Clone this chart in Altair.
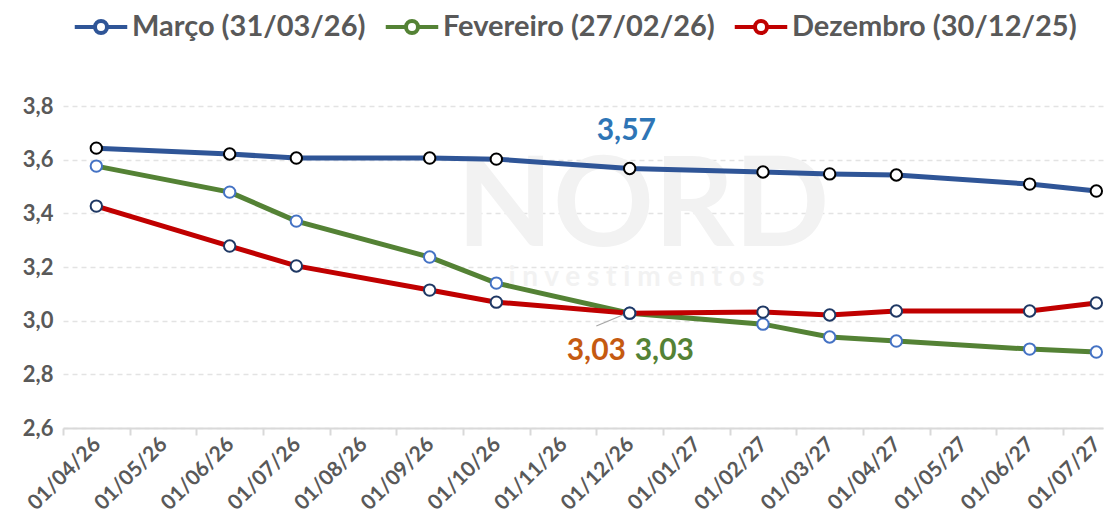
import altair as alt
import pandas as pd

month_labels = ["01/04/26", "01/05/26", "01/06/26", "01/07/26", "01/08/26", "01/09/26",
                "01/10/26", "01/11/26", "01/12/26", "01/01/27", "01/02/27", "01/03/27",
                "01/04/27", "01/05/27", "01/06/27", "01/07/27"]
point_month_idx = [0, 2, 3, 5, 6, 8, 10, 11, 12, 14, 15]

marco = [3.643, 3.621, 3.606, 3.606, 3.602, 3.567, 3.554, 3.547, 3.543, 3.509, 3.483]
fevereiro = [3.576, 3.479, 3.371, 3.237, 3.140, 3.028, 2.987, 2.939, 2.924, 2.894, 2.883]
dezembro = [3.427, 3.278, 3.204, 3.114, 3.069, 3.028, 3.032, 3.021, 3.036, 3.036, 3.066]

series_names = ["Março (31/03/26)", "Fevereiro (27/02/26)", "Dezembro (30/12/25)"]
series_values = [marco, fevereiro, dezembro]
line_colors = ["#2F5597", "#548235", "#C00000"]
marker_strokes = ["#000000", "#4472C4", "#1F3864"]

rows = []
for name, vals, mstroke in zip(series_names, series_values, marker_strokes):
    for i, v in zip(point_month_idx, vals):
        rows.append({"serie": name, "idx": i, "valor": v, "mstroke": mstroke})
df = pd.DataFrame(rows)

ann_text = ["3,57", "3,03", "3,03"]
ann_x = [7.95, 7.5, 8.52]
ann_y = [3.707, 2.887, 2.887]
ann_color = ["#2E75B6", "#C55A11", "#548235"]
ann_df = pd.DataFrame({"t": ann_text, "x": ann_x, "y": ann_y, "c": ann_color})

leader_df = pd.DataFrame({"x": [7.5], "y": [2.98], "x2": [7.94], "y2": [3.026]})

wm_df = pd.DataFrame({"t": ["NORD", "i n v e s t i m e n t o s"],
                      "x": [8.2, 8.1], "y": [3.42, 3.16], "s": [125, 28]})

FONT = "Lato"
GREY = "#595959"

x_dom = [-0.5, 15.1]
tick_vals = [i - 0.5 for i in range(16)]
label_expr = "[" + ",".join("'" + l + "'" for l in month_labels) + "][round(datum.value + 0.5)]"

xscale = alt.Scale(domain=x_dom, nice=False, zero=False)
yscale = alt.Scale(domain=[2.6, 3.8], nice=False, zero=False)

x_enc = alt.X("idx:Q", scale=xscale,
              axis=alt.Axis(values=tick_vals, labelExpr=label_expr, labelOffset=34,
                            labelAngle=-45, labelAlign="right", labelBaseline="middle",
                            labelFont=FONT, labelFontSize=21, labelFontWeight="bold",
                            labelColor=GREY, labelPadding=6, tickSize=7, tickColor="#D9D9D9",
                            domainColor="#D9D9D9", domainWidth=2, tickWidth=2, grid=False,
                            title=None, labelOverlap=False, labelBound=False, labelFlush=False))
y_enc = alt.Y("valor:Q", scale=yscale,
              axis=alt.Axis(values=[2.6, 2.8, 3.0, 3.2, 3.4, 3.6, 3.8],
                            labelExpr="replace(format(datum.value, '.1f'), '.', ',')",
                            labelFont=FONT, labelFontSize=22, labelFontWeight="bold",
                            labelColor=GREY, labelPadding=10, ticks=False, domain=False,
                            grid=True, gridColor="#E3E3E3", gridDash=[5, 4], gridWidth=1.5,
                            title=None))

legend_path = "M-1.75,0L-0.42,0M0.42,0L1.75,0M-0.4,0A0.4,0.4,0,1,1,0.4,0A0.4,0.4,0,1,1,-0.4,0"

color_enc = alt.Color("serie:N",
                      scale=alt.Scale(domain=series_names, range=line_colors),
                      sort=series_names,
                      legend=alt.Legend(orient="none", direction="horizontal", legendX=21,
                                        legendY=-96, title=None, symbolType=legend_path,
                                        symbolSize=900, symbolStrokeWidth=4,
                                        symbolFillColor="white",
                                        labelFont=FONT, labelFontSize=29,
                                        labelFontWeight="bold", labelColor=GREY,
                                        labelLimit=400, columnPadding=11, labelOffset=14))

watermark = alt.Chart(wm_df).mark_text(font=FONT, fontWeight="bold", color="#F2F2F2",
                                       align="center", baseline="middle").encode(
    x=alt.X("x:Q", scale=xscale), y=alt.Y("y:Q", scale=yscale),
    text="t:N", size=alt.Size("s:Q", scale=None, legend=None))

lines = alt.Chart(df).mark_line(strokeWidth=5).encode(
    x=x_enc, y=y_enc, color=color_enc, order="idx:Q")

points = alt.Chart(df).mark_point(filled=False, fill="white", fillOpacity=1, size=130,
                                  strokeWidth=2, opacity=1).encode(
    x=alt.X("idx:Q", scale=xscale), y=alt.Y("valor:Q", scale=yscale),
    stroke=alt.Stroke("mstroke:N", scale=None, legend=None),
    detail="serie:N")

leader = alt.Chart(leader_df).mark_rule(color="#A6A6A6", strokeWidth=1.2).encode(
    x=alt.X("x:Q", scale=xscale), y=alt.Y("y:Q", scale=yscale),
    x2="x2:Q", y2="y2:Q")

ann = alt.Chart(ann_df).mark_text(font=FONT, fontWeight="bold", fontSize=30,
                                  align="center", baseline="middle").encode(
    x=alt.X("x:Q", scale=xscale), y=alt.Y("y:Q", scale=yscale),
    text="t:N", color=alt.Color("c:N", scale=None, legend=None))

chart = alt.layer(watermark, lines, leader, points, ann).properties(
    width=1040, height=322,
    padding={"left": 14, "top": 2, "right": 2, "bottom": 2},
    background="white"
).configure_view(stroke=None)

chart.save("out.html", embed_options={"renderer": "svg", "actions": False})
